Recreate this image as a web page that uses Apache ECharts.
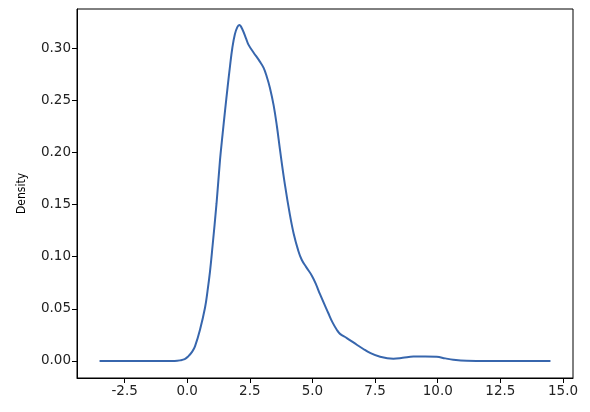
<!DOCTYPE html>
<html>
<head>
<meta charset="utf-8">
<script src="https://cdn.jsdelivr.net/npm/echarts@6/dist/echarts.min.js"></script>
<style>html,body{margin:0;padding:0;background:#fff}#c{width:590px;height:412px}</style>
</head>
<body>
<div id="c"></div>
<script>
const xValues = [-3.5, -1.0, -0.5, -0.29, -0.1, 0.04, 0.2, 0.31, 0.51, 0.71, 0.81, 0.91, 1.01, 1.17, 1.31, 1.41, 1.51, 1.61, 1.71, 1.80, 1.90, 2.0, 2.08, 2.2, 2.35, 2.45, 2.64, 2.9, 3.05, 3.17, 3.3, 3.45, 3.58, 3.7, 3.9, 4.1, 4.25, 4.43, 4.57, 4.75, 4.97, 5.15, 5.3, 5.63, 5.8, 5.97, 6.1, 6.37, 6.77, 7.0, 7.3, 7.7, 8.23, 8.6, 9.03, 9.5, 9.96, 10.3, 10.62, 11.16, 12.0, 14.5];
const density = [0, 0, 0.0001, 0.0006, 0.0017, 0.0044, 0.009, 0.014, 0.030, 0.051, 0.067, 0.086, 0.110, 0.151, 0.193, 0.217, 0.240, 0.262, 0.283, 0.300, 0.313, 0.320, 0.322, 0.318, 0.309, 0.303, 0.296, 0.287, 0.281, 0.273, 0.262, 0.245, 0.225, 0.203, 0.169, 0.140, 0.122, 0.106, 0.097, 0.090, 0.082, 0.073, 0.064, 0.046, 0.037, 0.030, 0.026, 0.022, 0.0156, 0.012, 0.0077, 0.004, 0.0022, 0.003, 0.0042, 0.0043, 0.0040, 0.0025, 0.0012, 0.0002, 0, 0];
const xTicks = [-2.5, 0, 2.5, 5, 7.5, 10, 12.5, 15];
const yTicks = [0, 0.05, 0.10, 0.15, 0.20, 0.25, 0.30];

const pts = xValues.map((x, i) => [x, density[i]]);
const chart = echarts.init(document.getElementById('c'), null, {renderer: 'canvas'});
const font = 'DejaVu Sans';
chart.setOption({
  animation: false,
  grid: {left: 77, top: 9, right: 17, bottom: 34, show: true, borderColor: '#000', borderWidth: 1, backgroundColor: 'transparent'},
  xAxis: {
    type: 'value', min: -4.4, max: 15.4,
    axisLine: {show: true, onZero: false, lineStyle: {color: '#000', width: 1}},
    axisTick: {show: true, length: 5, lineStyle: {color: '#000'}, customValues: xTicks},
    axisLabel: {customValues: xTicks, color: '#222', fontFamily: font, fontSize: 13.5, margin: 6,
      formatter: v => v.toFixed(1)},
    splitLine: {show: false}
  },
  yAxis: {
    type: 'value', min: -0.0163, max: 0.3374,
    name: 'Density', nameLocation: 'middle', nameGap: 49, nameRotate: 90,
    nameTextStyle: {color: '#000', fontFamily: 'DejaVu Sans Condensed', fontSize: 12},
    axisLine: {show: true, onZero: false, lineStyle: {color: '#000', width: 1}},
    axisTick: {show: true, length: 5, lineStyle: {color: '#000'}, customValues: yTicks},
    axisLabel: {customValues: yTicks, color: '#222', fontFamily: font, fontSize: 13.5, margin: 6,
      formatter: v => v.toFixed(2)},
    splitLine: {show: false}
  },
  series: [{
    type: 'line', data: pts, showSymbol: false, smooth: 0.4,
    lineStyle: {color: '#3766ad', width: 2}
  }]
});
</script>
</body>
</html>
